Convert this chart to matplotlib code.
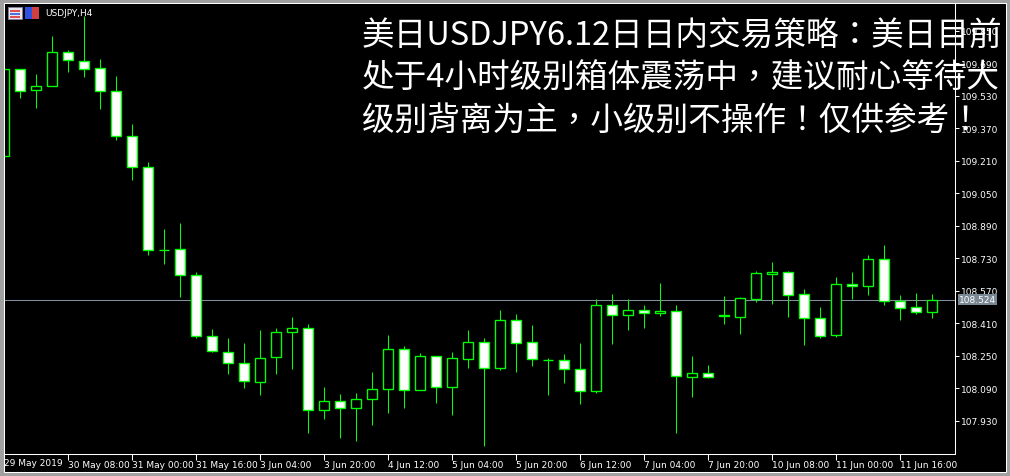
import matplotlib
matplotlib.use('Agg')
import matplotlib.pyplot as plt
from matplotlib.patches import Rectangle

# --- USDJPY H4 bars (bar index -1 is the half-hidden one at the left edge) ---
bars = list(range(-1, 58))
opens = [109.235, 109.660, 109.557, 109.576, 109.744, 109.699, 109.665, 109.552, 109.330, 109.177,
         108.772, 108.774, 108.646, 108.346, 108.267, 108.213, 108.119, 108.242, 108.365, 108.385,
         107.981, 108.026, 107.991, 108.035, 108.085, 108.282, 108.080, 108.247, 108.094, 108.235,
         108.316, 108.191, 108.424, 108.316, 108.230, 108.227, 108.183, 108.075, 108.498, 108.449,
         108.474, 108.459, 108.469, 108.144, 108.163, 108.452, 108.442, 108.531, 108.654, 108.661,
         108.552, 108.434, 108.353, 108.602, 108.592, 108.725, 108.518, 108.488, 108.467]
highs = [109.665, 109.661, 109.635, 109.822, 109.753, 109.921, 109.711, 109.625, 109.391, 109.202,
         108.874, 108.903, 108.661, 108.381, 108.337, 108.313, 108.377, 108.385, 108.441, 108.406,
         108.096, 108.060, 108.065, 108.168, 108.352, 108.298, 108.263, 108.247, 108.268, 108.377,
         108.337, 108.475, 108.455, 108.401, 108.237, 108.258, 108.313, 108.528, 108.554, 108.528,
         108.500, 108.608, 108.500, 108.249, 108.204, 108.542, 108.538, 108.667, 108.711, 108.667,
         108.578, 108.490, 108.637, 108.662, 108.746, 108.795, 108.549, 108.559, 108.554]
lows = [109.230, 109.517, 109.471, 109.576, 109.648, 109.623, 109.466, 109.313, 109.116, 108.747,
        108.701, 108.540, 108.339, 108.270, 108.161, 108.092, 108.058, 108.161, 108.186, 107.871,
        107.940, 107.846, 107.832, 107.907, 107.969, 107.994, 108.080, 108.019, 107.960, 108.191,
        107.807, 108.181, 108.171, 108.201, 108.058, 108.117, 108.014, 108.068, 108.309, 108.378,
        108.388, 108.447, 107.871, 108.048, 108.139, 108.408, 108.358, 108.516, 108.505, 108.442,
        108.304, 108.337, 108.344, 108.529, 108.550, 108.501, 108.427, 108.457, 108.437]
closes = [109.661, 109.555, 109.576, 109.744, 109.704, 109.660, 109.552, 109.330, 109.177, 108.769,
          108.772, 108.646, 108.346, 108.272, 108.213, 108.124, 108.237, 108.365, 108.385, 107.981,
          108.026, 107.991, 108.035, 108.085, 108.282, 108.080, 108.247, 108.094, 108.237, 108.316,
          108.188, 108.424, 108.311, 108.232, 108.230, 108.183, 108.075, 108.498, 108.449, 108.474,
          108.459, 108.469, 108.149, 108.163, 108.144, 108.444, 108.533, 108.656, 108.662, 108.550,
          108.434, 108.349, 108.602, 108.592, 108.725, 108.518, 108.486, 108.467, 108.524]

tick_bars = [3, 7, 11, 15, 19, 23, 27, 31, 35, 39, 43, 47, 51, 55]
tick_labels = ['30 May 08:00', '31 May 00:00', '31 May 16:00', '3 Jun 04:00', '3 Jun 20:00',
               '4 Jun 12:00', '5 Jun 04:00', '5 Jun 20:00', '6 Jun 12:00', '7 Jun 04:00',
               '7 Jun 20:00', '10 Jun 08:00', '11 Jun 00:00', '11 Jun 16:00']
first_label = '29 May 2019'
price_ticks = [107.930, 108.090, 108.250, 108.410, 108.570, 108.730, 108.890,
               109.050, 109.210, 109.370, 109.530, 109.690, 109.850]
last_price = 108.524
symbol = 'USDJPY,H4'
title_lines = ['美日USDJPY6.12日日内交易策略：美日目前',
               '处于4小时级别箱体震荡中，建议耐心等待大',
               '级别背离为主，小级别不操作！仅供参考！']

W, H = 1010, 477
GREEN = '#00ff00'
LW = 0.75


def fx(px):
    return px / W


def fy(py):
    return 1 - py / H


fig = plt.figure(figsize=(W / 100, H / 100), dpi=100, facecolor='#a0a0a0')

# window frame (behind the axes)
fig.patches.append(Rectangle((fx(3.5), fy(473)), fx(1002), 469 / H, transform=fig.transFigure,
                             facecolor='black', edgecolor='white', linewidth=LW, zorder=-5))

ax = fig.add_axes([fx(5), fy(455), fx(950), 450 / H])
ax.set_facecolor('black')

# candles
body_w = 0.625
for x, o, h, l, c in zip(bars, opens, highs, lows, closes):
    ax.vlines(x, l, h, color=GREEN, linewidth=LW, zorder=2)
    face = 'white' if c < o else 'black'
    ax.add_patch(Rectangle((x - body_w / 2, min(o, c)), body_w, abs(c - o),
                           facecolor=face, edgecolor=GREEN, linewidth=LW * 1.3, zorder=3))

# last price line
ax.axhline(last_price, color='#8090a0', linewidth=LW, zorder=1)

ax.set_xlim(-0.9375, 58.4375)
ax.set_ylim(107.766, 109.981)

for s in ['top', 'left']:
    ax.spines[s].set_visible(False)
for s in ['right', 'bottom']:
    ax.spines[s].set_color('white')
    ax.spines[s].set_linewidth(LW)

ax.yaxis.tick_right()
ax.set_yticks(price_ticks)
ax.set_yticklabels(['%.3f' % p for p in price_ticks])
ax.tick_params(axis='y', colors='white', length=3, width=LW, pad=1, labelsize=6.5)

ax.set_xticks(tick_bars)
ax.set_xticklabels(tick_labels, ha='left')
ax.tick_params(axis='x', colors='white', length=4, width=LW, pad=0.5, labelsize=6.5)

fig.text(fx(4), fy(464), first_label, color='white', fontsize=6.5, ha='left', va='center')

# price tag on the right axis
fig.text(fx(959), fy(300.5), '%.3f' % last_price, color='white', fontsize=6.5, ha='left', va='center',
         bbox=dict(boxstyle='square,pad=0.15', facecolor='#7a8894', edgecolor='none'), zorder=5)

# little icons + symbol name
fig.patches.append(Rectangle((fx(8), fy(20)), fx(14), 12 / H, transform=fig.transFigure,
                             facecolor='#e8e8f0', edgecolor='#8080a0', linewidth=0.6, zorder=5))
for i, col in enumerate(['#e05050', '#5070e0', '#e05050']):
    fig.patches.append(Rectangle((fx(10), fy(11 + 3 * i) - 1.5 / H), fx(10), 1.5 / H,
                                 transform=fig.transFigure, facecolor=col, edgecolor='none', zorder=6))
fig.patches.append(Rectangle((fx(25), fy(20)), fx(7), 12 / H, transform=fig.transFigure,
                             facecolor='#3050e0', edgecolor='none', zorder=5))
fig.patches.append(Rectangle((fx(32), fy(20)), fx(7), 12 / H, transform=fig.transFigure,
                             facecolor='#d04040', edgecolor='none', zorder=5))
fig.text(fx(45), fy(14), symbol, color='white', fontsize=6.5, ha='left', va='center', zorder=5)

# overlay commentary
for i, line in enumerate(title_lines):
    fig.text(fx(362), fy(37 + 42 * i), line, color='white', fontsize=23.5, ha='left', va='center',
             family=['Noto Sans CJK TC', 'DejaVu Sans'], zorder=10)

fig.savefig('out.png', dpi=100, facecolor=fig.get_facecolor())
